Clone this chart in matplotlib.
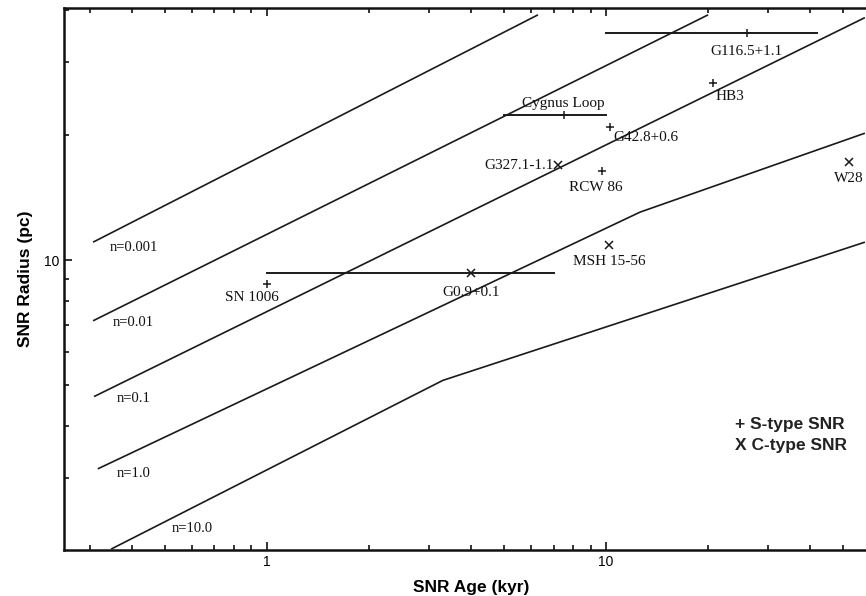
import matplotlib
matplotlib.use('Agg')
import matplotlib.pyplot as plt
from matplotlib.ticker import FuncFormatter, NullFormatter, LogLocator

# ---- model curves (ambient density n) ----
curve_labels = ['n=0.001', 'n=0.01', 'n=0.1', 'n=1.0', 'n=10.0']
curve_ages = [
    [0.307, 6.3],
    [0.307, 20.0],
    [0.309, 58.0],
    [0.317, 12.6, 58.0],
    [0.347, 3.3, 58.0],
]
curve_radii = [
    [11.05, 38.9],
    [7.15, 38.9],
    [4.70, 38.3],
    [3.15, 13.05, 20.2],
    [2.02, 5.14, 11.05],
]
# label positions (data coords)
label_age = [0.344, 0.351, 0.361, 0.361, 0.525]
label_rad = [10.7, 7.10, 4.65, 3.07, 2.27]

# ---- SNRs ----
snr_names = ['SN 1006', 'G0.9+0.1', 'Cygnus Loop', 'G42.8+0.6', 'HB3',
             'G116.5+1.1', 'G327.1-1.1', 'RCW 86', 'MSH 15-56', 'W28']
snr_age = [1.0, 4.0, 7.5, 10.3, 20.7, 26.0, 7.2, 9.7, 10.2, 52.0]
snr_age_err = [0, 3.0, 2.5, 0, 0, 16.0, 0, 0, 0, 0]
snr_radius = [8.75, 9.3, 22.3, 20.9, 26.7, 35.2, 16.9, 16.4, 10.9, 17.2]
snr_type = ['S', 'C', 'S', 'S', 'S', 'S', 'C', 'S', 'C', 'C']
# label offsets in pixels and alignment
lab_dx = [-15, 0, 0, 3, 2, 0, -4, -6, 0, 0]
lab_dy = [-13, -19, 12, -10, -14, -19, 0, -17, -17, -16]
lab_ha = ['center', 'center', 'center', 'left', 'left', 'center', 'right',
          'center', 'center', 'center']

W, H = 866, 596
fig = plt.figure(figsize=(W / 100, H / 100), dpi=100)
ax = fig.add_axes([64 / W, 46 / H, 814 / W, 542 / H])
ax.set_xscale('log')
ax.set_yscale('log')
ax.set_xlim(0.252, 63.4)
ax.set_ylim(2.01, 40.4)

lc = '#1a1a1a'
for ages, radii in zip(curve_ages, curve_radii):
    ax.plot(ages, radii, color=lc, lw=1.2, solid_capstyle='butt')

serif = 'Liberation Serif'
for lab, xa, yr in zip(curve_labels, label_age, label_rad):
    ax.text(xa, yr, lab, family=serif, fontsize=10.5, ha='left', va='center',
            color='#111111')

for name, a, ae, r, t, dx, dy, ha in zip(snr_names, snr_age, snr_age_err,
                                         snr_radius, snr_type, lab_dx, lab_dy,
                                         lab_ha):
    if ae > 0:
        ax.plot([a - ae, a + ae], [r, r], color=lc, lw=1.4)
    mk = '+' if t == 'S' else 'x'
    ax.plot([a], [r], marker=mk, color=lc, ms=5.5, mew=1.1, ls='none')
    ax.annotate(name, (a, r), xytext=(dx, dy), textcoords='offset pixels',
                ha=ha, va='center', family=serif, fontsize=11,
                color='#111111')

sans = 'Liberation Sans'
ax.text(0.824, 0.231, '+ S-type SNR', transform=ax.transAxes, ha='left',
        va='center', family=sans, fontsize=12.5, fontweight='bold',
        color='#222222')
ax.text(0.824, 0.192, 'X C-type SNR', transform=ax.transAxes, ha='left',
        va='center', family=sans, fontsize=12.5, fontweight='bold',
        color='#222222')

ax.set_xlabel('SNR Age (kyr)', family=sans, fontsize=12.5, fontweight='bold',
              labelpad=8)
ax.set_ylabel('SNR Radius (pc)', family=sans, fontsize=12.5, fontweight='bold',
              labelpad=8)

fmt = FuncFormatter(lambda v, p: '%g' % v)
ax.xaxis.set_major_formatter(fmt)
ax.yaxis.set_major_formatter(fmt)
ax.xaxis.set_minor_formatter(NullFormatter())
ax.yaxis.set_minor_formatter(NullFormatter())
ax.xaxis.set_minor_locator(LogLocator(base=10, subs=range(2, 10)))
ax.yaxis.set_minor_locator(LogLocator(base=10, subs=range(2, 10)))
ax.tick_params(which='both', direction='in', top=True, right=True,
               labelsize=10, width=1.2, color='#111111')
ax.tick_params(which='major', length=6)
ax.tick_params(which='minor', length=3.5)
for lbl in ax.get_xticklabels() + ax.get_yticklabels():
    lbl.set_family(sans)
for s in ax.spines.values():
    s.set_linewidth(1.8)
    s.set_color('#111111')

fig.savefig('out.png', dpi=100)
